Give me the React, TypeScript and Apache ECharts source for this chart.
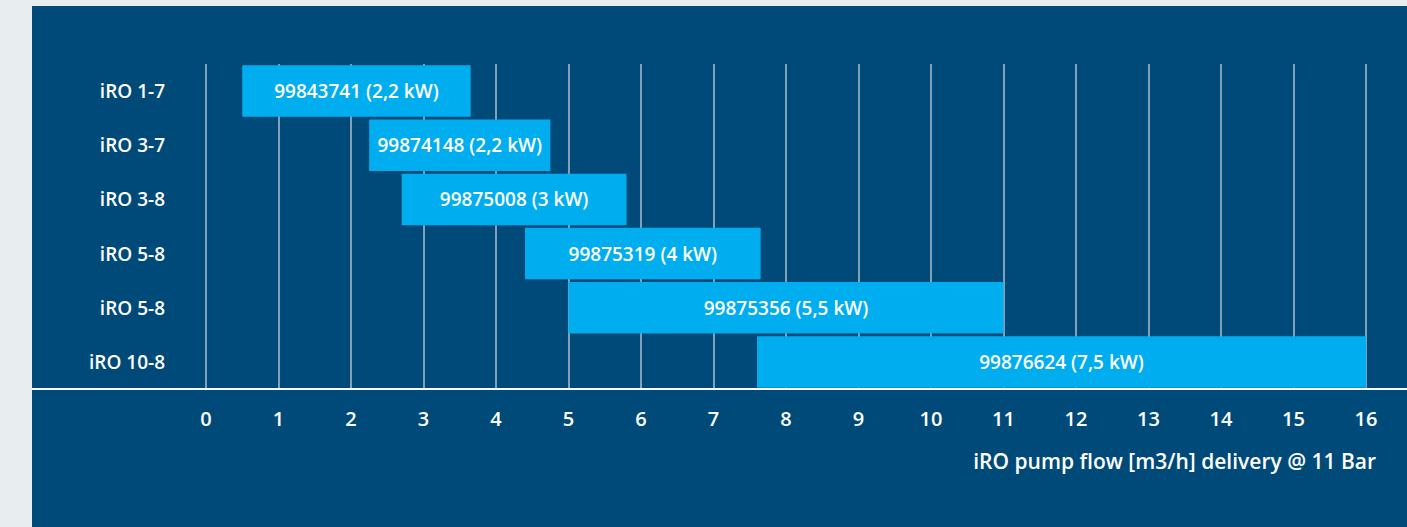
import React, { useEffect, useRef } from "react";
import * as echarts from "echarts";

const categories = ["iRO 1-7", "iRO 3-7", "iRO 3-8", "iRO 5-8", "iRO 5-8", "iRO 10-8"];
const flowStart = [0.5, 2.25, 2.7, 4.4, 5.0, 7.6];
const flowEnd = [3.65, 4.75, 5.8, 7.65, 11.0, 16.0];
const barLabels = [
  "99843741 (2,2 kW)",
  "99874148 (2,2 kW)",
  "99875008 (3 kW)",
  "99875319 (4 kW)",
  "99875356 (5,5 kW)",
  "99876624 (7,5 kW)",
];
const axisTitle = "iRO pump flow [m3/h] delivery @ 11 Bar";

const FONT = "'Open Sans', 'Noto Sans', sans-serif";
const PANEL = "#004a7a";
const BAR = "#00aeef";

export default function App() {
  const ref = useRef<HTMLDivElement>(null);
  useEffect(() => {
    if (!ref.current) return;
    const chart = echarts.init(ref.current, undefined, { renderer: "svg" });
    const idx = categories.map((_, i) => String(i));
    chart.setOption({
      animation: false,
      backgroundColor: "#e8edf0",
      textStyle: { fontFamily: FONT },
      graphic: [
        {
          type: "rect",
          z: -10,
          shape: { x: 32, y: 6, width: 1375, height: 521 },
          style: { fill: PANEL },
          silent: true,
        },
        {
          type: "line",
          z: 10,
          shape: { x1: 32, y1: 389, x2: 1407, y2: 389 },
          style: { stroke: "#ffffff", lineWidth: 2 },
          silent: true,
        },
        {
          type: "text",
          x: 1376,
          y: 461,
          style: {
            text: axisTitle,
            fill: "#ffffff",
            font: `600 21px ${FONT}`,
            textAlign: "right",
            textVerticalAlign: "middle",
          },
        },
      ],
      grid: { left: 206, right: 41, top: 64, bottom: 138, containLabel: false },
      xAxis: {
        type: "value",
        min: 0,
        max: 16,
        interval: 1,
        axisLine: { show: false },
        axisTick: { show: false },
        axisLabel: {
          color: "#ffffff",
          fontSize: 20,
          fontWeight: 600,
          fontFamily: FONT,
          margin: 19,
        },
        splitLine: { show: true, lineStyle: { color: "#aebfcf", width: 1.5 } },
      },
      yAxis: {
        type: "category",
        inverse: true,
        data: idx,
        axisLine: { show: false },
        axisTick: { show: false },
        splitLine: { show: false },
        axisLabel: {
          color: "#ffffff",
          fontSize: 19,
          fontWeight: 600,
          fontFamily: FONT,
          margin: 41,
          formatter: (v: string) => categories[Number(v)],
        },
      },
      series: [
        {
          type: "bar",
          stack: "flow",
          silent: true,
          barCategoryGap: "4.8%",
          itemStyle: { color: "transparent" },
          data: flowStart,
        },
        {
          type: "bar",
          stack: "flow",
          barCategoryGap: "4.8%",
          itemStyle: { color: BAR },
          label: {
            show: true,
            position: "inside",
            color: "#ffffff",
            fontSize: 19,
            fontWeight: 600,
            fontFamily: FONT,
            formatter: (p: any) => barLabels[p.dataIndex],
          },
          data: flowEnd.map((e, i) => +(e - flowStart[i]).toFixed(3)),
        },
      ],
    });
    return () => chart.dispose();
  }, []);
  return (
    <div
      ref={ref}
      style={{ position: "absolute", left: 0, top: 0, width: 1407, height: 527 }}
    />
  );
}
